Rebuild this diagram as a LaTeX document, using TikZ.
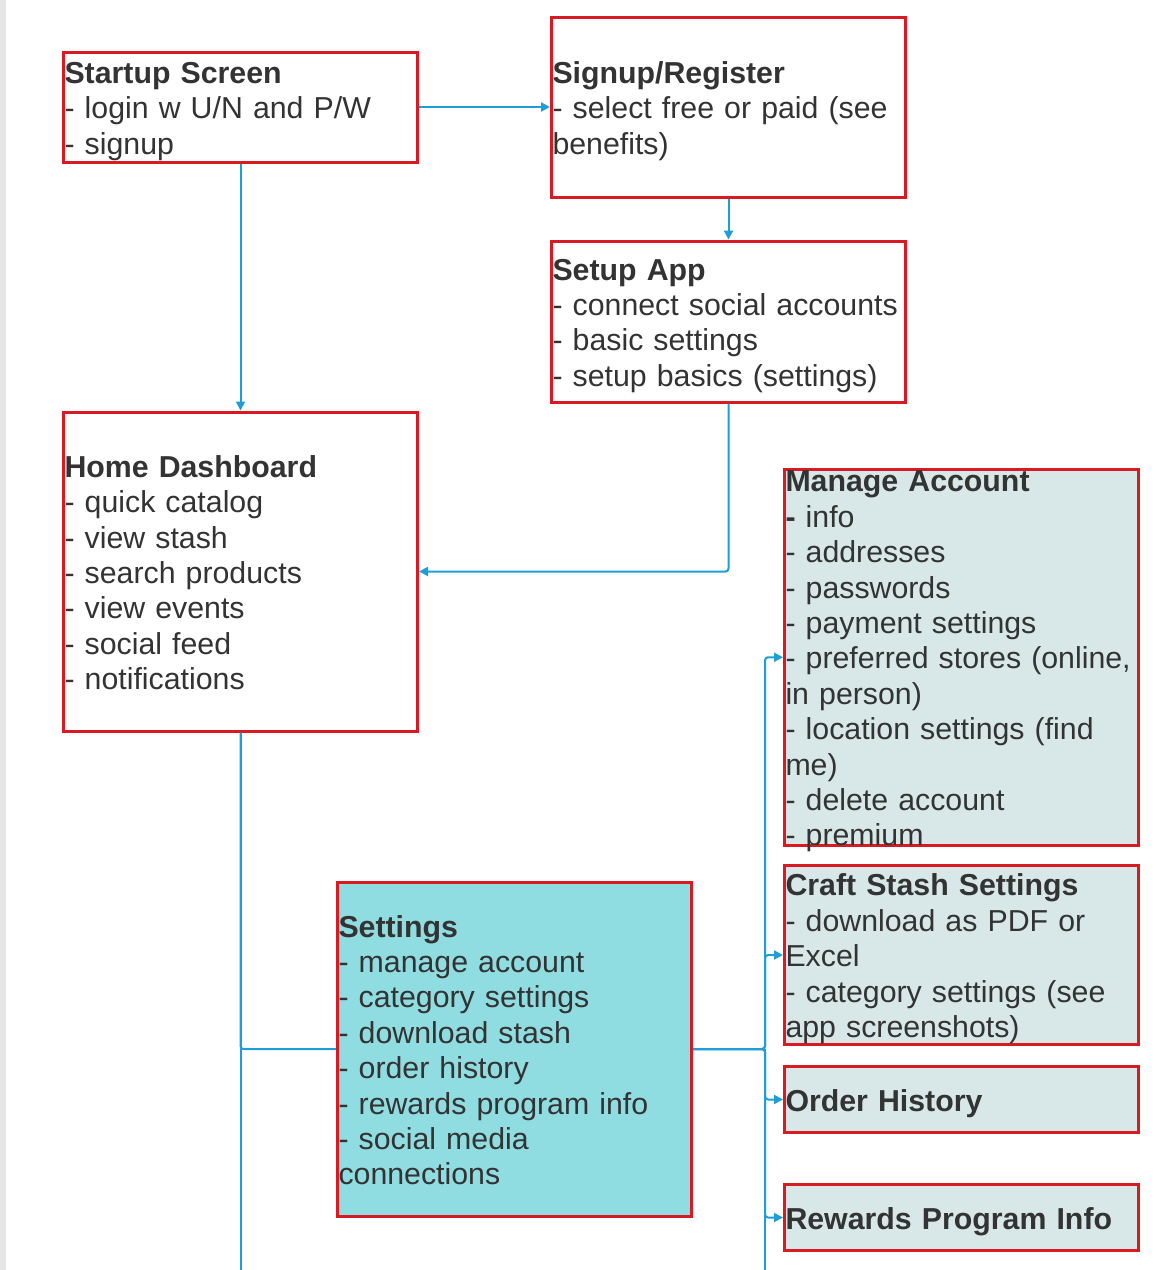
\documentclass[tikz,border=0pt]{standalone}
\usepackage{fontspec}
\setmainfont{Liberation Sans}
\usetikzlibrary{arrows.meta, positioning}
\definecolor{boxred}{HTML}{DA1A22}
\definecolor{flowblue}{HTML}{1E9ED6}
\definecolor{paleteal}{HTML}{D8E8E8}
\definecolor{brightteal}{HTML}{8FDCE1}
\definecolor{inkgrey}{HTML}{333333}
\definecolor{stripgrey}{HTML}{E6E6E6}
\tikzset{
    screen/.style = {rectangle, draw=boxred, line width=3pt, fill=white,
                     text width=352pt, inner xsep=1pt, inner ysep=0pt,
                     align=left, text=inkgrey, font=\fontsize{30.3}{35.4}\selectfont,
                     execute at begin node=\rule{0pt}{29.6pt},
                     execute at end node=\rule[-5.8pt]{0pt}{5.8pt}},
    subscreen/.style = {screen, fill=paleteal},
    arrow/.style = {line width=2pt, draw=flowblue, -{Triangle[length=9pt,width=9pt]}},
    link/.style = {line width=2pt, draw=flowblue},
}
\begin{document}
\hyphenpenalty=10000
\exhyphenpenalty=10000
\begin{tikzpicture}[x=1pt, y=-1pt]
\fill[stripgrey] (0,0) rectangle (6,1270);
\useasboundingbox (0,0) rectangle (1162,1270);

\node (start) [screen, minimum height=110pt] at (240.5,107) {\textbf{Startup Screen}\\- login w U/N and P/W\\- signup};
\node (signup) [screen, minimum height=180pt, right=131pt of start] {\textbf{Signup/Register}\\- select free or paid (see\\benefits)};
\node (setup) [screen, minimum height=161pt, below=41pt of signup] {\textbf{Setup App}\\- connect social accounts\\- basic settings\\- setup basics (settings)};
\node (home) [screen, minimum height=319pt, below=247pt of start] {\textbf{Home Dashboard}\\- quick catalog\\- view stash\\- search products\\- view events\\- social feed\\- notifications};
\node (manage) [subscreen, minimum height=376pt, inner ysep=-6.7pt, below=64pt of setup, xshift=233pt] {\textbf{Manage Account}\\\textbf{-} info\\- addresses\\- passwords\\- payment settings\\- preferred stores (online,\\in person)\\- location settings (find\\me)\\- delete account\\- premium};
\node (stash) [subscreen, minimum height=179pt, below=17pt of manage] {\textbf{Craft Stash Settings}\\- download as PDF or\\Excel\\- category settings (see\\app screenshots)};
\node (orders) [subscreen, minimum height=66pt, below=19pt of stash] {\textbf{Order History}};
\node (rewards) [subscreen, minimum height=66pt, below=49pt of orders] {\textbf{Rewards Program Info}};
\node (settings) [screen, fill=brightteal, minimum height=334pt, below=148pt of home, xshift=274pt] {\textbf{Settings}\\- manage account\\- category settings\\- download stash\\- order history\\- rewards program info\\- social media\\connections};

% Connectors
\coordinate (floor) at (0,1270);
\coordinate (bus) at (765,0);
\draw[arrow] (start) -- (signup);
\draw[arrow] (start) -- (home);
\draw[arrow] (signup) -- (setup);
\draw[arrow, rounded corners=3pt] (setup) |- (home);
\draw[link] (home) -- (home.south |- floor);
\draw[link, rounded corners=3pt] (home.south) |- (settings.west);
\draw[arrow, rounded corners=3pt] (settings.east) -| (bus |- manage) -- (manage);
\draw[arrow, rounded corners=3pt] (settings.east) -| (bus |- stash) -- (stash);
\draw[arrow, rounded corners=3pt] (settings.east) -| (bus |- orders) -- (orders);
\draw[arrow, rounded corners=3pt] (settings.east) -| (bus |- rewards) -- (rewards);
\draw[link] (bus |- settings.east) -- (bus |- floor);
\end{tikzpicture}
\end{document}
